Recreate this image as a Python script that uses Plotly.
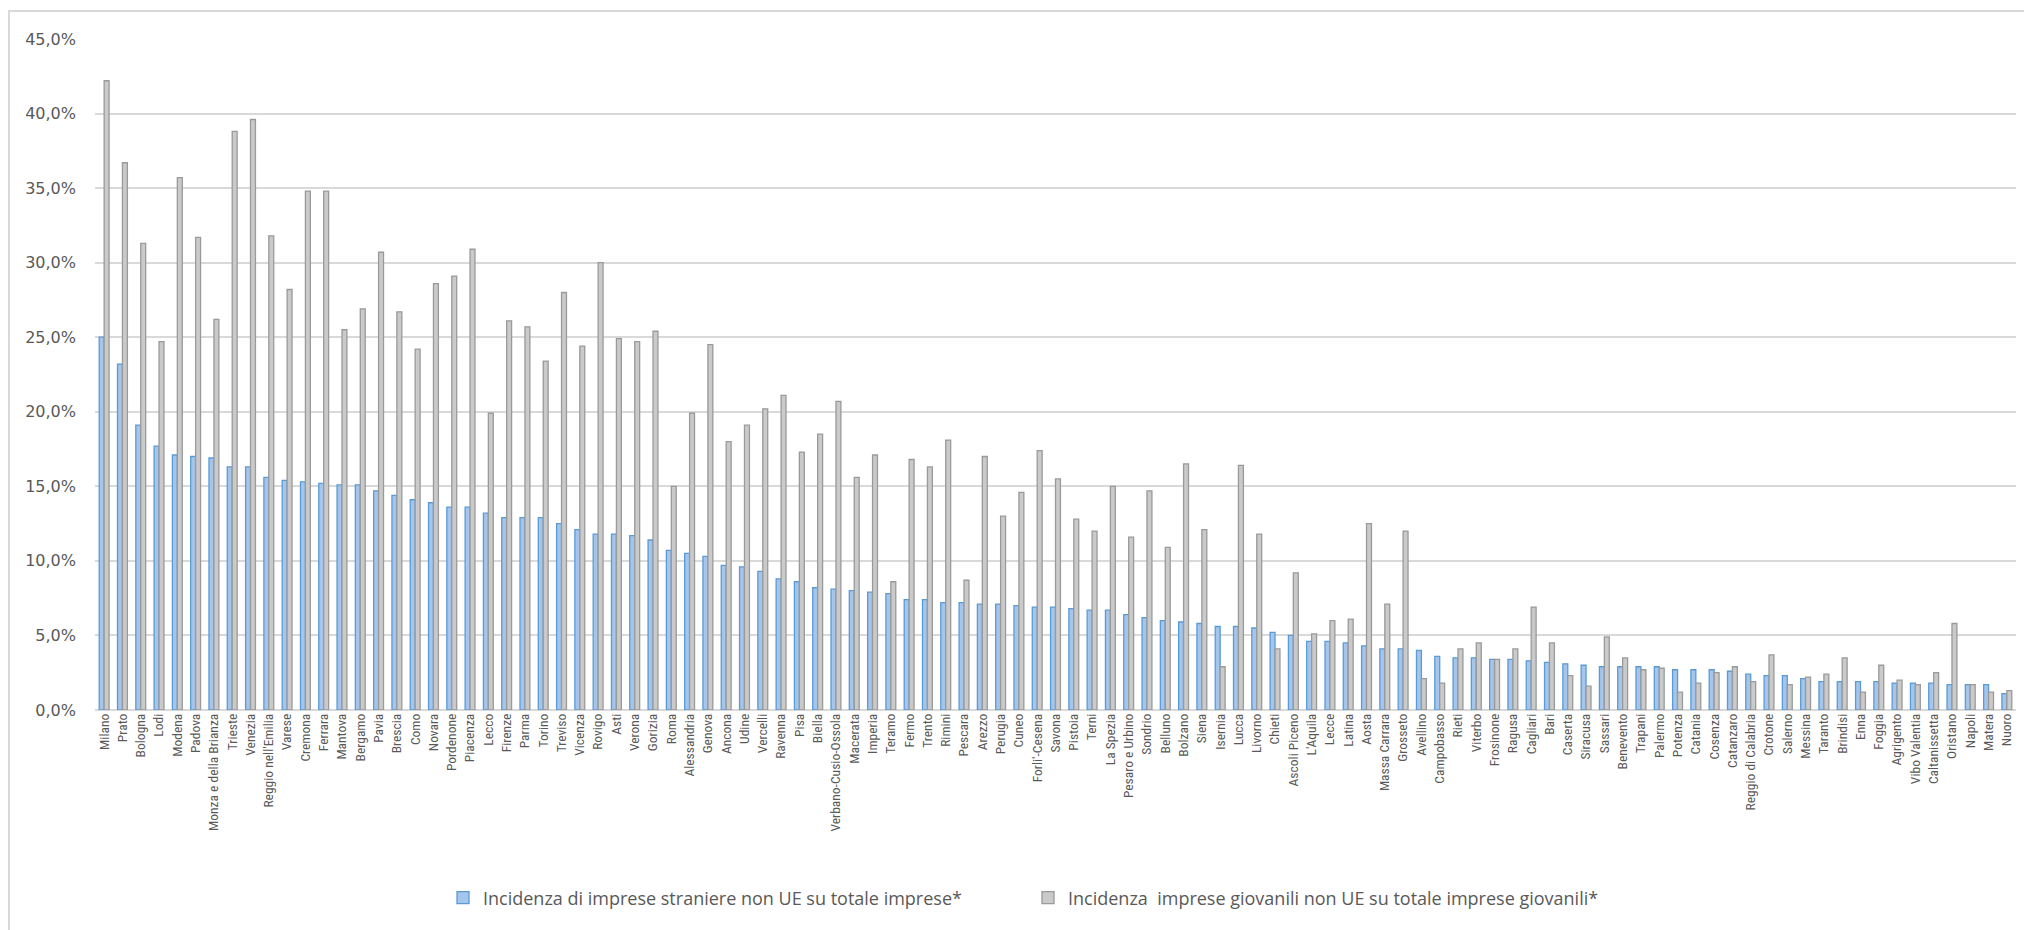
import plotly.graph_objects as go

# Province, ordered by share of non-EU foreign firms
province = [
    "Milano", "Prato", "Bologna", "Lodi", "Modena", "Padova", "Monza e della Brianza",
    "Trieste", "Venezia", "Reggio nell'Emilia", "Varese", "Cremona", "Ferrara", "Mantova",
    "Bergamo", "Pavia", "Brescia", "Como", "Novara", "Pordenone", "Piacenza", "Lecco",
    "Firenze", "Parma", "Torino", "Treviso", "Vicenza", "Rovigo", "Asti", "Verona",
    "Gorizia", "Roma", "Alessandria", "Genova", "Ancona", "Udine", "Vercelli", "Ravenna",
    "Pisa", "Biella", "Verbano-Cusio-Ossola", "Macerata", "Imperia", "Teramo", "Fermo",
    "Trento", "Rimini", "Pescara", "Arezzo", "Perugia", "Cuneo", "Forli'-Cesena", "Savona",
    "Pistoia", "Terni", "La Spezia", "Pesaro e Urbino", "Sondrio", "Belluno", "Bolzano",
    "Siena", "Isernia", "Lucca", "Livorno", "Chieti", "Ascoli Piceno", "L'Aquila", "Lecce",
    "Latina", "Aosta", "Massa Carrara", "Grosseto", "Avellino", "Campobasso", "Rieti",
    "Viterbo", "Frosinone", "Ragusa", "Cagliari", "Bari", "Caserta", "Siracusa", "Sassari",
    "Benevento", "Trapani", "Palermo", "Potenza", "Catania", "Cosenza", "Catanzaro",
    "Reggio di Calabria", "Crotone", "Salerno", "Messina", "Taranto", "Brindisi", "Enna",
    "Foggia", "Agrigento", "Vibo Valentia", "Caltanissetta", "Oristano", "Napoli", "Matera",
    "Nuoro",
]

# Share of non-EU foreign firms over all firms (%)
imprese_non_ue = [
    25.0, 23.2, 19.1, 17.7, 17.1, 17.0, 16.9, 16.3, 16.3, 15.6, 15.4, 15.3, 15.2, 15.1,
    15.1, 14.7, 14.4, 14.1, 13.9, 13.6, 13.6, 13.2, 12.9, 12.9, 12.9, 12.5, 12.1, 11.8,
    11.8, 11.7, 11.4, 10.7, 10.5, 10.3, 9.7, 9.6, 9.3, 8.8, 8.6, 8.2, 8.1, 8.0, 7.9, 7.8,
    7.4, 7.4, 7.2, 7.2, 7.1, 7.1, 7.0, 6.9, 6.9, 6.8, 6.7, 6.7, 6.4, 6.2, 6.0, 5.9, 5.8,
    5.6, 5.6, 5.5, 5.2, 5.0, 4.6, 4.6, 4.5, 4.3, 4.1, 4.1, 4.0, 3.6, 3.5, 3.5, 3.4, 3.4,
    3.3, 3.2, 3.1, 3.0, 2.9, 2.9, 2.9, 2.9, 2.7, 2.7, 2.7, 2.6, 2.4, 2.3, 2.3, 2.1, 1.9,
    1.9, 1.9, 1.9, 1.8, 1.8, 1.8, 1.7, 1.7, 1.7, 1.1,
]

# Share of non-EU youth firms over all youth firms (%)
giovanili_non_ue = [
    42.2, 36.7, 31.3, 24.7, 35.7, 31.7, 26.2, 38.8, 39.6, 31.8, 28.2, 34.8, 34.8, 25.5,
    26.9, 30.7, 26.7, 24.2, 28.6, 29.1, 30.9, 19.9, 26.1, 25.7, 23.4, 28.0, 24.4, 30.0,
    24.9, 24.7, 25.4, 15.0, 19.9, 24.5, 18.0, 19.1, 20.2, 21.1, 17.3, 18.5, 20.7, 15.6,
    17.1, 8.6, 16.8, 16.3, 18.1, 8.7, 17.0, 13.0, 14.6, 17.4, 15.5, 12.8, 12.0, 15.0,
    11.6, 14.7, 10.9, 16.5, 12.1, 2.9, 16.4, 11.8, 4.1, 9.2, 5.1, 6.0, 6.1, 12.5, 7.1,
    12.0, 2.1, 1.8, 4.1, 4.5, 3.4, 4.1, 6.9, 4.5, 2.3, 1.6, 4.9, 3.5, 2.7, 2.8, 1.2, 1.8,
    2.5, 2.9, 1.9, 3.7, 1.7, 2.2, 2.4, 3.5, 1.2, 3.0, 2.0, 1.7, 2.5, 5.8, 1.7, 1.2, 1.3,
]

serie_1 = "Incidenza di imprese straniere non UE su totale imprese*"
serie_2 = "Incidenza\u00a0 imprese giovanili non UE su totale imprese giovanili*"

W, H = 2024, 930
L, R, T, B = 95, 8, 39, 220
plot_w, plot_h = W - L - R, H - T - B

grey_text = "#595959"
grid = "#D9D9D9"

fig = go.Figure()
fig.add_trace(go.Bar(
    name=serie_1, x=province, y=imprese_non_ue,
    marker=dict(color="#A5C5EA", line=dict(color="#5B9BD5", width=1.3)),
))
fig.add_trace(go.Bar(
    name=serie_2, x=province, y=giovanili_non_ue,
    marker=dict(color="#CACACA", line=dict(color="#9A9A9A", width=1.3)),
))

# Light frame around the chart area (left and top edges visible)
fig.add_shape(
    type="rect", xref="paper", yref="paper",
    x0=(9 - L) / plot_w, x1=1.2,
    y0=-0.6, y1=(H - B - 11) / plot_h,
    line=dict(color=grid, width=2), fillcolor="rgba(0,0,0,0)", layer="below",
)

fig.update_layout(
    width=W, height=H,
    margin=dict(l=L, r=R, t=T, b=B, pad=0),
    paper_bgcolor="white", plot_bgcolor="white",
    barmode="group", bargap=0.46, bargroupgap=0.0,
    separators=",.",
    showlegend=True,
    legend=dict(
        orientation="h", x=(1028 - L) / plot_w, xanchor="center",
        y=(H - B - 898) / plot_h, yanchor="middle",
        font=dict(family="Open Sans, sans-serif", size=18, color=grey_text),
        itemwidth=30, traceorder="normal",
        entrywidth=540, entrywidthmode="pixels",
    ),
    xaxis=dict(
        type="category", tickangle=-90, showgrid=False, showline=False,
        ticks="", range=[-0.5, len(province) - 0.5],
        tickfont=dict(family="Liberation Sans Narrow, Roboto Condensed, Roboto, sans-serif",
                      size=13.5, color=grey_text),
        automargin=False,
    ),
    yaxis=dict(
        range=[0, 45], dtick=5, tickformat=".1f", ticksuffix="%",
        showgrid=True, gridcolor=grid, gridwidth=1.5,
        zeroline=True, zerolinecolor=grid, zerolinewidth=2,
        showline=False, ticks="", ticklabelstandoff=18,
        tickfont=dict(family="DejaVu Sans, Verdana, sans-serif", size=16, color=grey_text),
        automargin=False,
    ),
)

fig.write_html("out.html")
